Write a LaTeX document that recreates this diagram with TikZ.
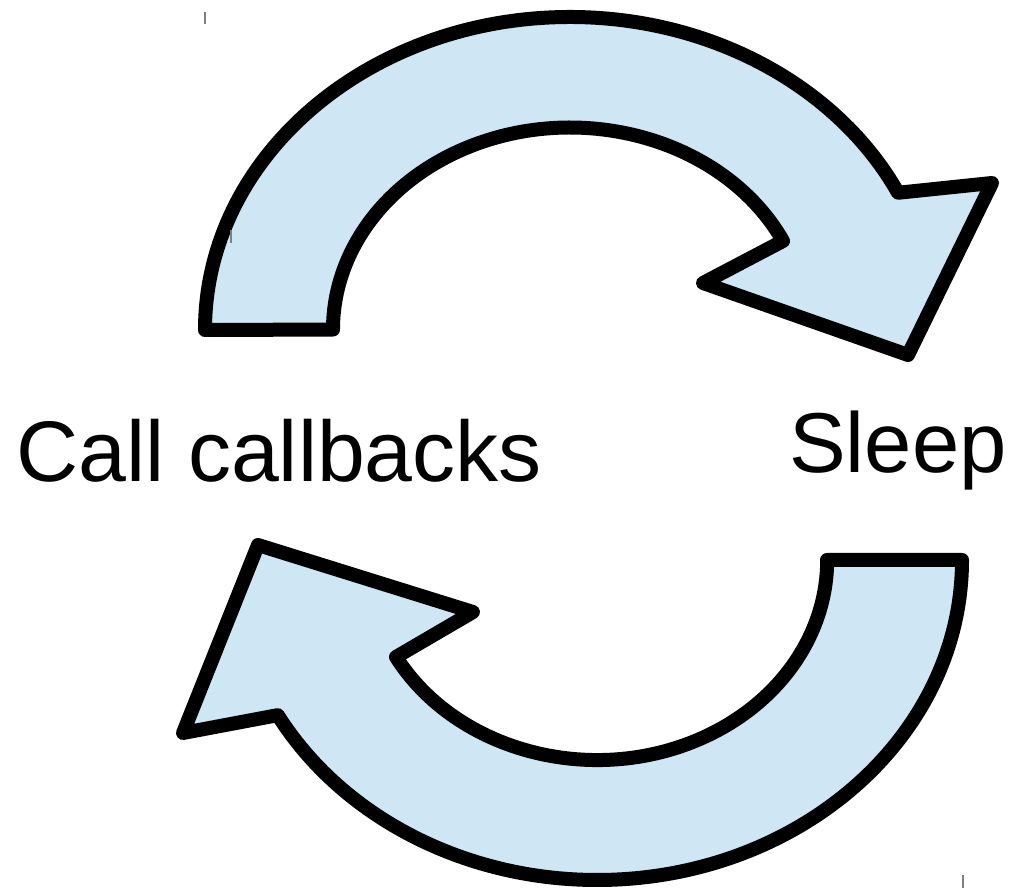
\documentclass[tikz,border=0pt]{standalone}
\usepackage{fontspec}
\setmainfont{Liberation Sans}
\definecolor{paleblue}{RGB}{207,230,244}
\begin{document}
\begin{tikzpicture}[
                x=1pt, y=1pt,
                cyclearrow/.style={draw=black, line width=14pt, line join=round, fill=paleblue},
                steplabel/.style={inner sep=0pt, anchor=base west},
                mark line/.style={draw=gray, line width=1.2pt},
            ]
            \useasboundingbox (0,0) rectangle (1011,890);
            % upper arrow: from "Call callbacks" to "Sleep"
            \draw[cyclearrow] (205,560)
                arc[start angle=180, end angle=26, x radius=365, y radius=313]
                -- (992,707) -- (908,535) -- (703,607)
                -- (783,649)
                arc[start angle=26, end angle=180, x radius=237, y radius=202]
                -- cycle;
            % lower arrow: from "Sleep" back to "Call callbacks"
            \draw[cyclearrow] (827,330) -- (962,330)
                arc[start angle=0, end angle=-151, x radius=365, y radius=320]
                -- (183,157) -- (258,345) -- (473,278)
                -- (396,233)
                arc[start angle=-151, end angle=0, x radius=230, y radius=200]
                -- cycle;
            \node[steplabel, font=\fontsize{86}{100}\selectfont] (callcb) at (16,408) {Call callbacks};
            \node[steplabel, font=\fontsize{85}{100}\selectfont] (sleep) at (789,417) {Sleep};
            % small marks
            \draw[mark line] (205,866) -- (205,878);
            \draw[mark line] (231,647) -- (231,660);
            \draw[mark line] (963,2) -- (963,15);
            \end{tikzpicture}
\end{document}
